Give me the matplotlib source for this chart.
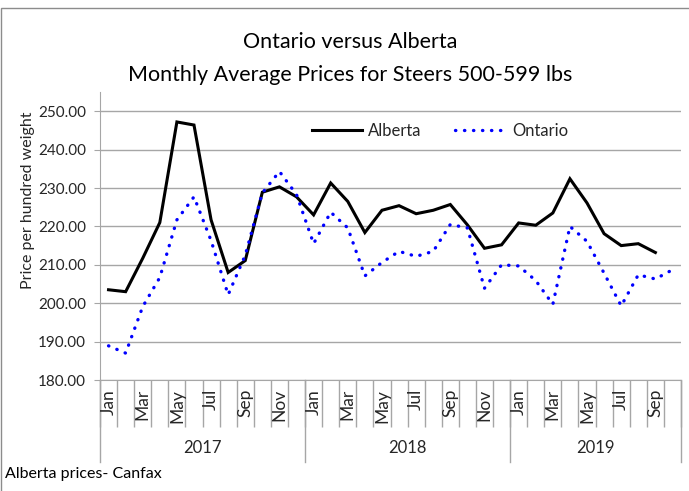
import matplotlib
matplotlib.use("Agg")
import matplotlib.pyplot as plt
import matplotlib.transforms as mtransforms
from matplotlib.patches import Rectangle
from matplotlib.lines import Line2D

plt.rcParams['font.family'] = ['Lato', 'DejaVu Sans']

months = ['Jan', 'Feb', 'Mar', 'Apr', 'May', 'Jun', 'Jul', 'Aug', 'Sep', 'Oct', 'Nov', 'Dec'] * 2 + \
         ['Jan', 'Feb', 'Mar', 'Apr', 'May', 'Jun', 'Jul', 'Aug', 'Sep', 'Oct']
years = ['2017', '2018', '2019']
year_lengths = [12, 12, 10]

alberta = [203.5, 203.0, 211.7, 221.0, 247.2, 246.4, 221.7, 208.0, 211.1, 228.9, 230.3, 227.7,
           223.0, 231.3, 226.5, 218.4, 224.2, 225.4, 223.3, 224.2, 225.7, 220.4, 214.3, 215.2,
           220.9, 220.3, 223.5, 232.4, 226.1, 218.1, 215.0, 215.5, 213.2]
ontario = [188.9, 187.0, 199.1, 206.7, 221.7, 227.7, 216.3, 202.2, 212.5, 228.7, 234.3, 228.3,
           215.5, 223.7, 219.6, 207.1, 210.6, 213.5, 212.2, 213.5, 220.5, 219.6, 203.9, 210.0,
           209.7, 205.9, 199.7, 220.0, 216.1, 207.8, 199.3, 207.4, 206.3, 208.7]

W, H = 689, 491
fig = plt.figure(figsize=(W / 100, H / 100), dpi=100)
ax = fig.add_axes([100 / W, 1 - 380 / H, 581 / W, 288 / H])

grey = '#a6a6a6'
txt = '#262626'

ax.plot(range(len(alberta)), alberta, color='black', lw=2.2, label='Alberta', solid_joinstyle='miter')
ax.plot(range(len(ontario)), ontario, color='#0000ff', lw=2.4, linestyle=(0, (0.1, 2.6)),
        dash_capstyle='round', label='Ontario')

ax.set_xlim(-0.5, len(months) - 0.5)
ax.set_ylim(180, 255)
ax.set_yticks(range(180, 251, 10))
ax.set_yticklabels(['%.2f' % v for v in range(180, 251, 10)], fontsize=11, color=txt)
ax.yaxis.grid(True, color=grey, lw=1)
ax.set_axisbelow(True)
ax.tick_params(axis='y', length=4, color=grey, pad=6)

# month boundaries as long ticks
ax.set_xticks([i - 0.5 for i in range(len(months) + 1)])
ax.set_xticklabels([])
ax.tick_params(axis='x', length=47 * 0.72, color=grey, width=1)

for s in ['top', 'right']:
    ax.spines[s].set_visible(False)
for s in ['left', 'bottom']:
    ax.spines[s].set_color(grey)

trans = mtransforms.blended_transform_factory(ax.transData, ax.transAxes)
px = 1 / 288
for i, m in enumerate(months):
    if i % 2 == 0:
        ax.text(i, -9 * px, m, rotation=90, ha='center', va='top', fontsize=12.5,
                transform=trans, color=txt)

start = 0
for y, n in zip(years, year_lengths):
    ax.add_line(Line2D([start - 0.5, start - 0.5], [0, -82 * px], transform=trans,
                       color=grey, lw=1, clip_on=False))
    ax.text(start - 0.5 + n / 2, -68 * px, y, ha='center', va='center', fontsize=12,
            transform=trans, color=txt)
    start += n
ax.add_line(Line2D([start - 0.5, start - 0.5], [0, -82 * px], transform=trans,
                   color=grey, lw=1, clip_on=False))

fig.text(28 / W, 1 - 200 / H, 'Price per hundred weight', rotation=90, ha='center', va='center',
         fontsize=11.5, color=txt)

ax.legend(ncol=2, frameon=False, loc='center', bbox_to_anchor=(0.585, 0.865), fontsize=12,
          handlelength=3.0, handletextpad=0.4, columnspacing=2.0, labelcolor=txt)

fig.text(350 / W, 1 - 42 / H, 'Ontario versus Alberta', ha='center', va='center', fontsize=15.5,
         color='black')
fig.text(350 / W, 1 - 75 / H, 'Monthly Average Prices for Steers 500-599 lbs', ha='center',
         va='center', fontsize=15.5, color='black')
fig.text(5 / W, 1 - 474 / H, 'Alberta prices- Canfax', ha='left', va='center', fontsize=11.5,
         color='black')

fig.patches.append(Rectangle((1 / W, -0.1), 1.2, 1.1 - 8 / H, transform=fig.transFigure,
                             fill=False, edgecolor='#8c8c8c', lw=1))

fig.savefig('out.png', dpi=100)
